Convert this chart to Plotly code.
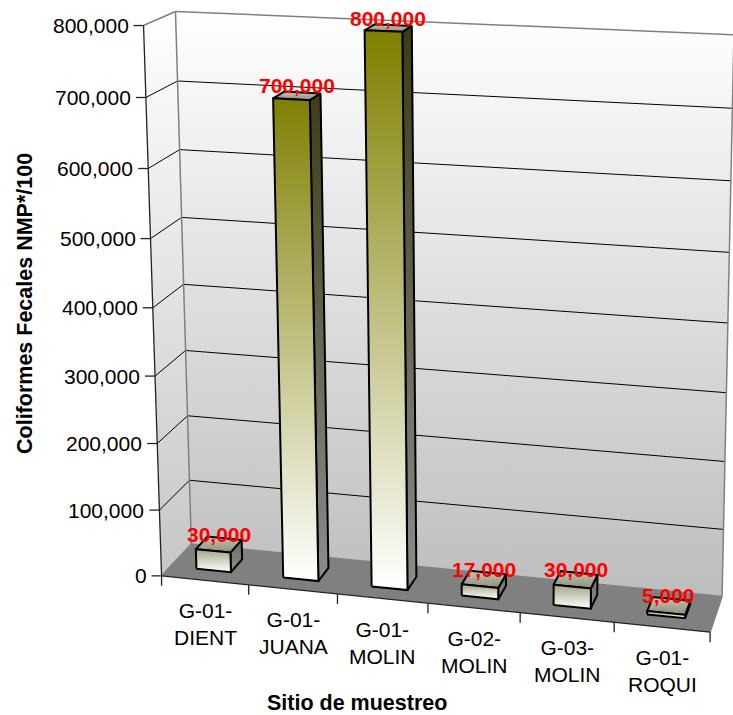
import numpy as np
import plotly.graph_objects as go

# ---------------- data ----------------
sites = ["G-01-DIENT", "G-01-JUANA", "G-01-MOLIN", "G-02-MOLIN", "G-03-MOLIN", "G-01-ROQUI"]
values = [30000, 700000, 800000, 17000, 30000, 5000]
y_ticks = [0, 100000, 200000, 300000, 400000, 500000, 600000, 700000, 800000]
y_title = "Coliformes Fecales NMP*/100"
x_title = "Sitio de muestreo"

# ---------------- layout constants ----------------
W, H = 733, 715
Y_MAX = 800000
N = len(sites)
BAR_HALF = 0.2          # half bar width in category units (gap width 150%)
Z_FRONT, Z_BACK = 0.3, 0.7   # bar depth inside the series row (gap depth 150%)
FONT = "Liberation Sans, Arial, sans-serif"

# Perspective camera calibrated on the reference frame (pixel positions of the box)
cal_world, cal_pix = [], []
front_tick_v = [575, 510, 443.3, 376.7, 308.3, 239.3, 169.3, 97.7, 24.3]
for k, v in enumerate(front_tick_v):
    cal_world.append((0, k / 8, 0))
    cal_pix.append((162 - 19 * (575 - v) / 551, v))
back_left = {0: (190, 546), 1: (188.5, 479), 2: (187, 416), 4: (183.5, 285),
             5: (182, 218), 6: (180, 150), 7: (178.5, 81), 8: (177, 10)}
for k, p in back_left.items():
    cal_world.append((0, k / 8, 1))
    cal_pix.append(p)
back_right_v = {0: 593, 1: 530, 2: 462, 3: 393, 4: 324, 5: 253, 6: 182, 7: 108, 8: 33}
for k, v in back_right_v.items():
    cal_world.append((6, k / 8, 1))
    cal_pix.append((723 + (593 - v) * 10 / 560, v))
floor_front_u = [162, 248, 337, 428, 520, 615, 710]
for k, u in enumerate(floor_front_u):
    cal_world.append((k, 0, 0))
    cal_pix.append((u, 575 + (633 - 575) * (u - 162) / (710 - 162)))


def fit_camera(world, pix):
    rows = []
    for (X, Y, Z), (u, v) in zip(world, pix):
        u = (u - W / 2) / (W / 2)
        v = (v - H / 2) / (H / 2)
        rows.append([X, Y, Z, 1, 0, 0, 0, 0, -u * X, -u * Y, -u * Z, -u])
        rows.append([0, 0, 0, 0, X, Y, Z, 1, -v * X, -v * Y, -v * Z, -v])
    _, _, vt = np.linalg.svd(np.array(rows, dtype=float))
    return vt[-1].reshape(3, 4)


P = fit_camera(cal_world, cal_pix)


def proj(X, Y, Z):
    h = P @ np.array([X, Y, Z, 1.0])
    u = h[0] / h[2] * (W / 2) + W / 2
    v = h[1] / h[2] * (H / 2) + H / 2
    return u, H - v   # plot coordinates, y upwards


def poly(pts):
    xs, ys = [], []
    for p in pts:
        x, y = proj(*p)
        xs.append(x)
        ys.append(y)
    xs.append(xs[0])
    ys.append(ys[0])
    return xs, ys


def mix(c1, c2, t):
    a = [int(c1[i:i + 2], 16) for i in (1, 3, 5)]
    b = [int(c2[i:i + 2], 16) for i in (1, 3, 5)]
    return "#" + "".join(f"{round(a[i] + (b[i] - a[i]) * t):02x}" for i in range(3))


fig = go.Figure()


def face(pts, fillcolor=None, grad=None, line_color="rgba(0,0,0,0)", line_width=0):
    xs, ys = poly(pts)
    kw = dict(x=xs, y=ys, mode="lines", fill="toself", hoverinfo="skip",
              showlegend=False, line=dict(color=line_color, width=line_width))
    if grad is not None:
        kw["fillgradient"] = dict(type="vertical", colorscale=grad)
    else:
        kw["fillcolor"] = fillcolor
    fig.add_trace(go.Scatter(**kw))


def segments(segs, color, width):
    xs, ys = [], []
    for a, b in segs:
        x0, y0 = a
        x1, y1 = b
        xs += [x0, x1, None]
        ys += [y0, y1, None]
    fig.add_trace(go.Scatter(x=xs, y=ys, mode="lines", hoverinfo="skip", showlegend=False,
                             line=dict(color=color, width=width)))


# ---------------- walls and floor ----------------
face([(0, 0, 1), (N, 0, 1), (N, 1, 1), (0, 1, 1)], grad=[[0, "#bdbdbd"], [1, "#ffffff"]])
face([(0, 0, 0), (0, 0, 1), (0, 1, 1), (0, 1, 0)], grad=[[0, "#c6c6c6"], [1, "#ffffff"]])
face([(0, 0, 0), (N, 0, 0), (N, 0, 1), (0, 0, 1)], fillcolor="#808080")

# gridlines
grid = []
for t in y_ticks[1:-1]:
    y = t / Y_MAX
    grid.append((proj(0, y, 0), proj(0, y, 1)))
    grid.append((proj(0, y, 1), proj(N, y, 1)))
segments(grid, "#000000", 1)

# wall outlines
outline = [
    (proj(0, 1, 0), proj(0, 1, 1)),
    (proj(0, 1, 1), proj(N, 1, 1)),
    (proj(0, 0, 1), proj(0, 1, 1)),
    (proj(N, 0, 1), proj(N, 1, 1)),
    (proj(0, 0, 1), proj(N, 0, 1)),
    (proj(N, 0, 0), proj(N, 0, 1)),
    (proj(0, 0, 0), proj(0, 0, 1)),
]
segments(outline, "#808080", 1.5)

# axes lines + ticks
axes = [(proj(0, 0, 0), proj(0, 1, 0)), (proj(0, 0, 0), proj(N, 0, 0))]
for t in y_ticks:
    x, y = proj(0, t / Y_MAX, 0)
    axes.append(((x - 10, y), (x, y)))
for k in range(N + 1):
    x, y = proj(k, 0, 0)
    axes.append(((x, y), (x, y - 10)))
segments(axes, "#222222", 1.3)

# ---------------- bars ----------------
annotations = []
for i, val in enumerate(values):
    h = val / Y_MAX
    x0, x1 = i + 0.5 - BAR_HALF, i + 0.5 + BAR_HALF
    top_col = mix("#a6a68a", "#7f7f00", min(1.0, h * 1.1))
    side_top = mix("#6e6e5e", "#3c3c14", min(1.0, h * 1.1))
    face([(x1, 0, Z_FRONT), (x1, 0, Z_BACK), (x1, h, Z_BACK), (x1, h, Z_FRONT)],
         grad=[[0, "#8c8c8c"], [1, side_top]], line_color="#000000", line_width=2)
    face([(x0, h, Z_FRONT), (x1, h, Z_FRONT), (x1, h, Z_BACK), (x0, h, Z_BACK)],
         grad=[[0, "#8f8f7c"], [1, "#c4c4b4"]], line_color="#000000", line_width=2)
    face([(x0, 0, Z_FRONT), (x1, 0, Z_FRONT), (x1, h, Z_FRONT), (x0, h, Z_FRONT)],
         grad=[[0, "#ffffff"], [0.5, mix("#ffffff", top_col, 0.5)], [1, top_col]],
         line_color="#000000", line_width=2)
    lx, ly = proj(i + 0.5, h, 0.5 * (Z_FRONT + Z_BACK))
    annotations.append(dict(x=lx, y=ly, text=f"<b>{val:,}</b>", showarrow=False,
                            xanchor="center", yanchor="middle", yshift=10,
                            font=dict(family=FONT, size=21, color="#ff0000")))

# ---------------- text ----------------
for t in y_ticks:
    x, y = proj(0, t / Y_MAX, 0)
    annotations.append(dict(x=x - 13, y=y, text=f"{t:,}", showarrow=False,
                            xanchor="right", yanchor="middle",
                            font=dict(family=FONT, size=21, color="#000000")))
for i, s in enumerate(sites):
    xa, ya = proj(i, 0, 0)
    xb, yb = proj(i + 1, 0, 0)
    parts = s.split("-")
    label = "-".join(parts[:2]) + "-<br>" + parts[2]
    annotations.append(dict(x=(xa + xb) / 2, y=(ya + yb) / 2, text=label, showarrow=False,
                            xanchor="center", yanchor="top", yshift=-17,
                            font=dict(family=FONT, size=21, color="#000000")))
annotations.append(dict(x=357, y=H - 703, text=f"<b>{x_title}</b>", showarrow=False,
                        xanchor="center", yanchor="middle",
                        font=dict(family=FONT, size=21.5, color="#000000")))
annotations.append(dict(x=25, y=H - 304, text=f"<b>{y_title}</b>", showarrow=False,
                        textangle=-90, xanchor="center", yanchor="middle",
                        font=dict(family=FONT, size=21.5, color="#000000")))

fig.update_layout(
    width=W, height=H, margin=dict(l=0, r=0, t=0, b=0),
    paper_bgcolor="#ffffff", plot_bgcolor="#ffffff",
    xaxis=dict(range=[0, W], visible=False, fixedrange=True),
    yaxis=dict(range=[0, H], visible=False, fixedrange=True),
    annotations=annotations, showlegend=False,
)
fig.write_html("out.html")
